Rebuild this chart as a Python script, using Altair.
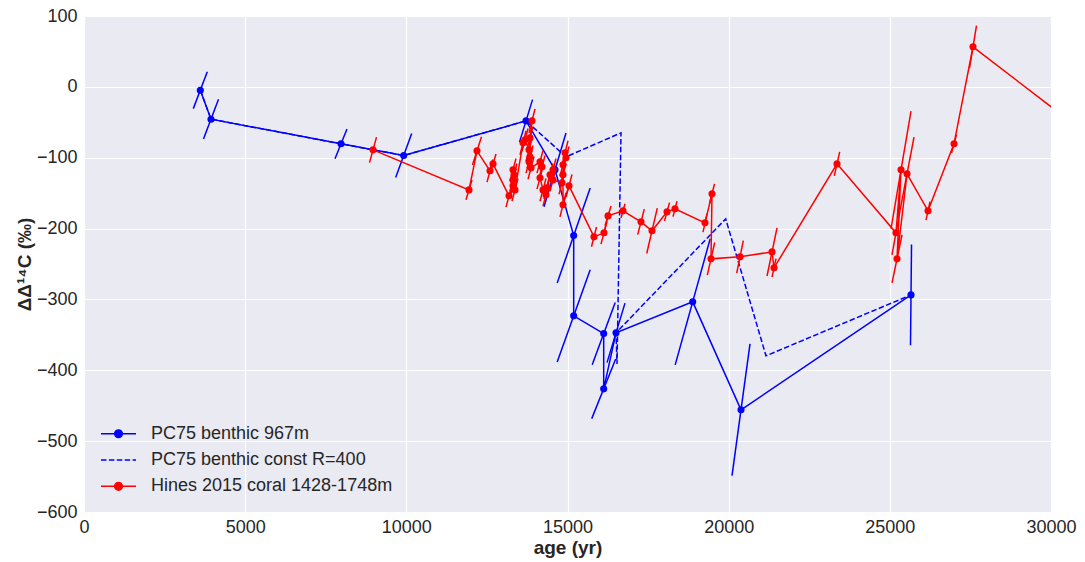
import altair as alt
import pandas as pd

# ---------------- data ----------------
series_names = ["PC75 benthic 967m", "PC75 benthic const R=400", "Hines 2015 coral 1428-1748m"]
series_colors = ["#0000ff", "#0000ff", "#ff0000"]

# PC75 benthic 967m (solid blue, markers, slanted error bars)
pc75_age = [3608, 3940, 7973, 9918, 13713, 14612, 15192, 15192, 16123, 16123, 16505, 18884, 20383, 25657]
pc75_val = [-4.7, -45.6, -80.4, -96.9, -48.0, -117.1, -209.9, -323.2, -348.2, -426.2, -347.2, -303.4, -455.8, -293.6]
pc75_age_err = [217, 233, 186, 248, 202, 341, 512, 512, 357, 372, 279, 543, 279, 16]
pc75_val_err = [26, 28, 21, 31, 30, 52, 67, 65, 44, 42, 42, 89, 93, 71]

# PC75 benthic const R=400 (dashed blue, no markers)
pc75r_age = [3608, 3940, 7973, 9918, 13713, 14954, 16660, 16536, 16505, 19908, 21158, 25657]
pc75r_val = [-4.7, -45.6, -80.4, -96.9, -48.0, -98.8, -64.9, -391.0, -347.2, -186.3, -379.6, -293.6]

# Hines 2015 coral 1428-1748m (solid red, markers, slanted error bars)
hines_age = [8966, 11944, 12192, 12596, 12689,
             13185, 13309, 13309, 13340, 13309, 13371, 13620, 13682, 13806, 13899,
             13837, 13837, 13806, 13868, 14147, 14209, 14147, 14240, 14333, 14364,
             14457, 14550, 14550, 14829, 14860, 14923, 14954, 14860, 14860, 15047,
             15822, 16132, 16257, 16722, 17280, 17622, 18087, 18335, 19266, 19483,
             19452, 20352, 21345, 21407, 23361, 25191, 25347, 25223, 25533, 26184,
             26991, 27580, 31000]
hines_val = [-88.9, -145.4, -90.3, -118.5, -108.7,
             -153.8, -139.7, -131.3, -124.2, -117.1, -145.4, -79.0, -74.8, -88.9, -48.0,
             -72.0, -98.8, -105.8, -114.3, -105.8, -112.9, -128.4, -145.4, -152.4, -142.5,
             -124.2, -117.1, -131.3, -135.5, -124.2, -93.1, -100.2, -110.1, -166.5, -139.7,
             -211.7, -206.0, -182.1, -175.0, -190.5, -203.2, -176.4, -172.2, -191.9, -151.0,
             -242.7, -239.9, -232.9, -255.4, -108.7, -206.0, -117.1, -242.7, -122.8, -175.0,
             -80.4, 56.5, -63.0]
hines_age_err = [109, 93, 140, 93, 93,
                 93, 93, 93, 93, 93, 93, 93, 93, 93, 93,
                 93, 93, 93, 93, 93, 93, 93, 93, 93, 93,
                 93, 93, 93, 93, 93, 93, 93, 93, 93, 93,
                 78, 93, 93, 62, 102, 164, 78, 62, 62, 78,
                 115, 102, 155, 62, 84, 124, 310, 155, 217, 62,
                 78, 109, 93]
hines_val_err = [18, 14, 20, 16, 14,
                 16, 16, 16, 16, 16, 16, 17, 16, 16, 17,
                 16, 16, 16, 16, 16, 16, 16, 16, 16, 16,
                 16, 16, 16, 16, 16, 17, 16, 16, 17, 16,
                 14, 16, 14, 10, 18, 32, 13, 11, 13, 14,
                 23, 23, 34, 13, 17, 31, 83, 34, 52, 13,
                 13, 30, 17]

x_ticks = [0, 5000, 10000, 15000, 20000, 25000, 30000]
y_ticks = [-600, -500, -400, -300, -200, -100, 0, 100]

# ---------------- tables ----------------
def table(age, val, age_err=None, val_err=None):
    d = {"age": age, "val": val, "idx": list(range(len(age)))}
    df = pd.DataFrame(d)
    if age_err is not None:
        df["age_lo"] = [a - e for a, e in zip(age, age_err)]
        df["age_hi"] = [a + e for a, e in zip(age, age_err)]
        df["val_lo"] = [v - e for v, e in zip(val, val_err)]
        df["val_hi"] = [v + e for v, e in zip(val, val_err)]
    return df

pc75 = table(pc75_age, pc75_val, pc75_age_err, pc75_val_err)
pc75r = table(pc75r_age, pc75r_val)
hines = table(hines_age, hines_val, hines_age_err, hines_val_err)

xscale = alt.Scale(domain=[0, 30000], nice=False, zero=False)
yscale = alt.Scale(domain=[-600, 100], nice=False, zero=False)

font = "Liberation Sans"
txt = "#262626"
FS = 18
TFS = 19

x_axis = alt.Axis(title="age (yr)", values=x_ticks, format="d", labelFontSize=FS,
                  titleFontSize=TFS, titleFontWeight="bold", labelPadding=6,
                  titlePadding=2, labelFont=font, titleFont=font, labelFlush=False,
                  labelColor=txt, titleColor=txt)
y_axis = alt.Axis(title="ΔΔ¹⁴C (‰)", values=y_ticks, format="d", labelFontSize=FS,
                  titleFontSize=TFS, titleFontWeight="bold", labelPadding=7,
                  titlePadding=2, labelFont=font, titleFont=font, labelFlush=False,
                  labelColor=txt, titleColor=txt)


def xy(xf="age:Q", yf="val:Q"):
    return dict(x=alt.X(xf, scale=xscale, axis=x_axis),
                y=alt.Y(yf, scale=yscale, axis=y_axis))


def errbars(df, color):
    return alt.Chart(df).mark_rule(color=color, strokeWidth=1.5, clip=True).encode(
        x2="age_hi:Q", y2="val_hi:Q", **xy("age_lo:Q", "val_lo:Q"))


def line(df, color, dash=None):
    kw = dict(color=color, strokeWidth=1.5, clip=True)
    if dash:
        kw["strokeDash"] = dash
    return alt.Chart(df).mark_line(**kw).encode(order=alt.Order("idx:Q"), **xy())


def points(df, color):
    return alt.Chart(df).mark_point(filled=True, size=50, color=color, opacity=1,
                                    clip=True).encode(**xy())


circle_line = "M-1,0L1,0M0.22,0A0.22,0.22,0,1,1,-0.22,0A0.22,0.22,0,1,1,0.22,0Z"
dashed_line = "M-1,0L-0.686,0M-0.549,0L-0.235,0M-0.098,0L0.216,0M0.353,0L0.667,0M0.804,0L1,0"

legend_df = pd.DataFrame({"series": series_names, "age": [-5000] * 3, "val": [0] * 3})
leg = alt.Legend(orient="none", legendX=16, legendY=405, title=None, labelFontSize=FS,
                 labelFont=font, labelColor=txt, symbolSize=1225, symbolStrokeWidth=1.5,
                 symbolOpacity=1, clipHeight=25.5, rowPadding=0.3, labelOffset=14,
                 padding=0, labelLimit=600)
legend_layer = alt.Chart(legend_df).mark_point(size=1225, filled=True, strokeWidth=1.5,
                                               clip=True).encode(
    shape=alt.Shape("series:N", scale=alt.Scale(domain=series_names,
                    range=[circle_line, dashed_line, circle_line]), legend=leg),
    fill=alt.Fill("series:N", scale=alt.Scale(domain=series_names, range=series_colors), legend=leg),
    stroke=alt.Stroke("series:N", scale=alt.Scale(domain=series_names, range=series_colors), legend=leg),
    **xy(),
)

chart = alt.layer(
    line(pc75, "#0000ff"),
    errbars(pc75, "#0000ff"),
    points(pc75, "#0000ff"),
    line(pc75r, "#0000ff", dash=[5.5, 2.4]),
    errbars(hines, "#ff0000"),
    line(hines, "#ff0000"),
    points(hines, "#ff0000"),
    legend_layer,
).properties(
    width=967, height=496,
    padding={"left": 84, "top": 16, "right": 34, "bottom": 50},
    autosize=alt.AutoSizeParams(type="none"),
    background="white",
).configure_view(
    fill="#EAEAF2", stroke="transparent"
).configure_axis(
    grid=True, gridColor="white", gridWidth=1.2, domain=False, ticks=False
)

chart.save("out.html", embed_options={"renderer": "svg", "actions": False})
